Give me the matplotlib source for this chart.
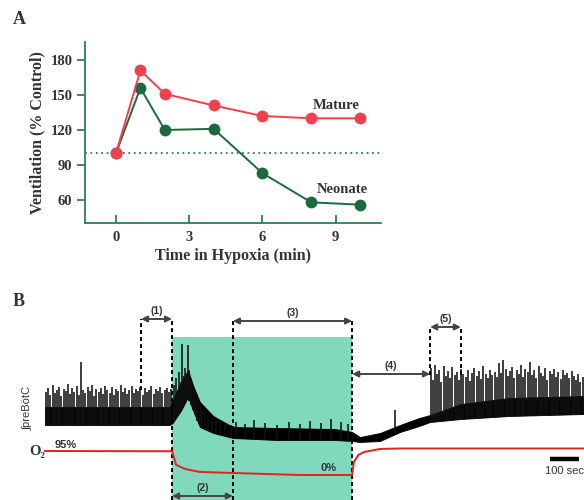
import numpy as np
import matplotlib
matplotlib.use("Agg")
import matplotlib.pyplot as plt

# ====================== Data ======================
# Panel A: ventilation during hypoxia
time_min = [0, 1, 2, 4, 6, 8, 10]
mature = [100, 171, 151, 141, 132, 130, 130]
neonate = [100, 156, 120, 121, 83, 58, 56]

# Panel B: integrated preBotC activity (a.u.), time in seconds
env_t = [0, 430, 440, 470, 493, 510, 534, 580, 648, 800, 1000, 1059, 1086,
         1155, 1224, 1290, 1328, 1434, 1600, 1859]
env_lo = [15, 15, 17, 30, 43, 30, 13, 7, 2, 0, 0, -1, -2, -1, 8, 14, 18, 21, 24, 26]
env_hi = [33, 33, 40, 58, 70, 55, 38, 24, 13, 12, 11, 8, 3, 7, 15, 22, 25, 36, 42, 44]

pre_t = [3, 11, 18, 26, 33, 41, 48, 56, 64, 71,
         79, 86, 94, 101, 109, 117, 124, 132, 139, 147,
         155, 162, 170, 177, 185, 193, 200, 208, 215, 223,
         231, 238, 246, 253, 261, 269, 276, 284, 291, 299,
         307, 314, 322, 329, 337, 345, 352, 360, 367, 375,
         383, 390, 398, 405, 413, 421, 428, 435]
pre_h = [48, 52, 45, 55, 47, 50, 53, 44, 51, 49,
         56, 46, 52, 48, 54, 45, 78, 50, 47, 53,
         49, 55, 44, 51, 48, 52, 46, 54, 50, 47,
         53, 45, 51, 49, 55, 48, 52, 46, 50, 54,
         47, 51, 49, 53, 45, 52, 48, 50, 54, 46,
         51, 49, 53, 47, 50, 52, 48, 51]

hyp_t = [445, 452, 458, 463, 468, 472, 477, 482, 487, 493, 498, 504, 510, 517,
         525, 533, 542, 552, 563, 575, 590, 605, 620, 640,
         660, 690, 720, 760, 800, 840, 880, 915, 950, 985, 1020, 1045]
hyp_h = [55, 62, 50, 68, 58, 96, 64, 72, 66, 95, 70, 60, 52, 48,
         42, 36, 30, 28, 24, 22, 20, 18, 16, 15,
         18, 16, 20, 17, 15, 18, 16, 19, 17, 21, 18, 16]

rec_t = [1207,
         1330, 1337, 1345, 1352, 1360, 1367, 1375, 1383, 1390, 1398,
         1405, 1413, 1420, 1428, 1436, 1443, 1451, 1458, 1466, 1474,
         1481, 1489, 1496, 1504, 1512, 1519, 1527, 1534, 1542, 1550,
         1557, 1565, 1572, 1580, 1588, 1595, 1603, 1610, 1618, 1626,
         1633, 1641, 1648, 1656, 1664, 1671, 1679, 1686, 1694, 1702,
         1709, 1717, 1724, 1732, 1740, 1747, 1755, 1762, 1770, 1778,
         1785, 1793, 1800, 1808, 1816, 1823, 1831, 1838, 1846, 1854]
rec_h = [30,
         72, 60, 75, 66, 70, 58, 74, 64, 69, 62,
         73, 65, 68, 60, 71, 66, 63, 70, 59, 67,
         72, 64, 69, 61, 74, 66, 62, 70, 65, 68,
         63, 77, 67, 80, 71, 64, 69, 73, 62, 70,
         66, 75, 63, 71, 68, 78, 65, 70, 62, 74,
         67, 64, 72, 60, 69, 66, 71, 63, 68, 61,
         70, 65, 67, 62, 69, 64, 60, 66, 58, 63]

# O2 trace (%)
o2_t = [0, 438, 452, 483, 534, 648, 880, 1059, 1065, 1080, 1100, 1155, 1224, 1859]
o2_pct = [95, 94, 40, 24, 12, 8, 0, 0, 51, 79, 91, 103, 105, 105]

# protocol epochs (s)
hypoxia = (438, 1059)
epochs = {"(1)": (331, 438), "(2)": (438, 648), "(3)": (648, 1059),
          "(4)": (1059, 1328), "(5)": (1328, 1434)}

# ====================== Figure ======================
fig = plt.figure(figsize=(5.84, 5.0), dpi=100)
serif = "Liberation Serif"
sans = ["Liberation Sans", "DejaVu Sans"]
green = "#2f7d5c"
txt = "#333333"

# ---------- Panel A ----------
ax = fig.add_axes([0.1455, 0.554, 0.507, 0.362])
ax.plot(time_min, neonate, "-o", color="#1b6a3c", lw=1.4, ms=7.5, zorder=3)
ax.plot(time_min, mature, "-o", color="#f0404c", lw=1.4, ms=7.5, zorder=3)
ax.axhline(100, color=green, ls=(0, (1, 2)), lw=1.3)
ax.set_xlim(-1.27, 10.86)
ax.set_ylim(40.3, 195.4)
ax.set_xticks([0, 3, 6, 9])
ax.set_yticks([60, 90, 120, 150, 180])
for s in ["top", "right"]:
    ax.spines[s].set_visible(False)
for s in ["left", "bottom"]:
    ax.spines[s].set_color(green)
    ax.spines[s].set_linewidth(1.3)
ax.tick_params(axis="x", direction="in", length=6, width=1.3, color=green, pad=6)
ax.tick_params(axis="y", direction="out", length=6, width=1.3, color=green, pad=3)
for lab in ax.get_xticklabels() + ax.get_yticklabels():
    lab.set_fontfamily(serif)
    lab.set_fontweight("bold")
    lab.set_fontsize(10.5)
    lab.set_color(txt)
ax.set_xlabel("Time in Hypoxia (min)", family=serif, weight="bold", fontsize=11.5,
              color=txt, labelpad=3)
ax.set_ylabel("Ventilation (% Control)", family=serif, weight="bold", fontsize=11.5,
              color=txt, labelpad=4)
ax.text(10, 141, "Mature", family=serif, weight="bold", fontsize=10.5, color=txt,
        ha="right", va="center")
ax.text(10.3, 69, "Neonate", family=serif, weight="bold", fontsize=10.5, color=txt,
        ha="right", va="center")

fig.text(0.022, 0.96, "A", family=serif, weight="bold", fontsize=13, color=txt,
         va="center")
fig.text(0.022, 0.396, "B", family=serif, weight="bold", fontsize=13, color=txt,
         va="center")

# ---------- Panel B ----------
bx = fig.add_axes([0, 0, 1, 0.44])
bx.set_xlim(-155.2, 1858.6)
bx.set_ylim(-60, 160)
bx.axis("off")

bx.axvspan(hypoxia[0], hypoxia[1], ymin=0, ymax=(103 + 60) / 220,
           color="#80d9bd", lw=0, zorder=0)

bx.fill_between(env_t, env_lo, env_hi, color="black", lw=0.6, zorder=2)
for st, sh in [(pre_t, pre_h), (hyp_t, hyp_h), (rec_t, rec_h)]:
    base = np.interp(st, env_t, env_lo)
    bx.vlines(st, base, sh, color="#111111", lw=1.15, zorder=2)

o2x = bx.twinx()
o2x.set_ylim(-99, 772)
o2x.axis("off")
o2x.plot(o2_t, o2_pct, color="#e8201c", lw=1.4)

# dashed epoch boundaries
dash = dict(color="black", ls=(0, (2, 1.6)), lw=1.4, zorder=4)
bx.vlines(331, 50, 121, **dash)
bx.vlines(438, -60, 121, **dash)
bx.vlines(648, -60, 119, **dash)
bx.vlines(1059, -60, 119, **dash)
bx.vlines([1328, 1434], 65, 113, **dash)

arrow_y = {"(1)": 121, "(2)": -56, "(3)": 119, "(4)": 66, "(5)": 113}
for name, (t0, t1) in epochs.items():
    y = arrow_y[name]
    bx.annotate("", xy=(t0, y), xytext=(t1, y),
                arrowprops=dict(arrowstyle="<|-|>", color="#444444", lw=1.4,
                                mutation_scale=9, shrinkA=0, shrinkB=0), zorder=5)
    bx.text((t0 + t1) / 2, y + 3, name, family=sans, weight="bold", fontsize=7.5,
            color=txt, ha="center", va="bottom")

bx.text(-59, 32, "\u222BpreBötC", family=sans, fontsize=8, rotation=90,
        ha="center", va="center", color=txt)
bx.text(-28, -11, "O\u2082", family=[serif, "DejaVu Serif"], weight="bold",
        fontsize=10.5, ha="center", va="center", color=txt)
bx.text(72, -5, "95%", family=sans, weight="bold", fontsize=8, ha="center",
        va="center", color=txt)
bx.text(976, -28, "0%", family=sans, weight="bold", fontsize=8, ha="center",
        va="center", color=txt)

# scale bar
bx.plot([1741, 1841], [-19, -19], color="black", lw=3.2, solid_capstyle="butt")
bx.text(1724, -31, "100 sec", family=sans, fontsize=8, ha="left", va="center",
        color=txt)

plt.savefig("out.png", dpi=100)
